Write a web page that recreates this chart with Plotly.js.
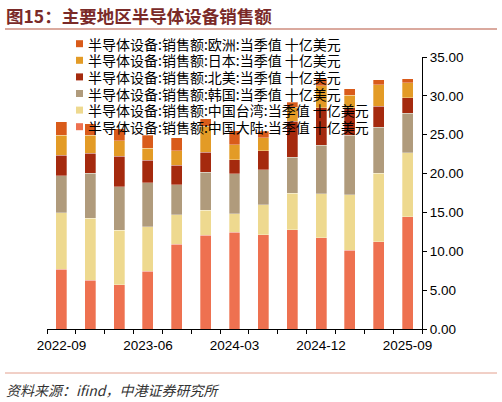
<!DOCTYPE html>
<html>
<head>
<meta charset="utf-8">
<script src="https://cdn.plot.ly/plotly-3.0.1.min.js"></script>
<style>
  body { margin: 0; background: #fff; }
  #myDiv { width: 502px; height: 402px; }
</style>
</head>
<body>
<div id="myDiv"></div>
<script>
  // quarters and values, billion USD
  let quarters = ['2022-09','2022-12','2023-03','2023-06','2023-09','2023-12','2024-03',
                  '2024-06','2024-09','2024-12','2025-03','2025-06','2025-09'];
  let tickText = ['2022-09','','','2023-06','','','2024-03','','','2024-12','','','2025-09'];

  let chinaMainland = [7.67, 6.26, 5.70, 7.41, 10.89, 12.05, 12.43, 12.10, 12.78, 11.75, 10.11, 11.23, 14.45];
  let chinaTaiwan   = [7.30, 7.98, 6.99, 5.72, 3.82, 3.21, 2.37, 3.90, 4.72, 5.66, 7.17, 8.79, 8.24];
  let korea         = [4.76, 5.79, 5.62, 5.66, 3.86, 4.89, 5.18, 4.50, 4.58, 6.22, 7.63, 5.97, 5.05];
  let northAmerica  = [2.61, 2.57, 3.90, 2.91, 2.49, 2.58, 1.80, 2.45, 4.63, 4.85, 3.53, 2.66, 2.02];
  let japan         = [2.57, 2.31, 2.02, 1.59, 1.85, 3.33, 1.93, 1.63, 1.80, 2.83, 1.65, 2.79, 1.93];
  let europe        = [1.73, 1.47, 1.55, 1.62, 1.67, 1.00, 1.80, 0.85, 0.69, 0.86, 0.80, 0.64, 0.48];

  let names = [
    '半导体设备:销售额:中国大陆:当季值 十亿美元',
    '半导体设备:销售额:中国台湾:当季值 十亿美元',
    '半导体设备:销售额:韩国:当季值 十亿美元',
    '半导体设备:销售额:北美:当季值 十亿美元',
    '半导体设备:销售额:日本:当季值 十亿美元',
    '半导体设备:销售额:欧洲:当季值 十亿美元'
  ];
  let series = [chinaMainland, chinaTaiwan, korea, northAmerica, japan, europe];
  let colors = ['#EE7150', '#EED98F', '#B09B7C', '#A52A0E', '#E39B26', '#D95B1A'];

  // plot area in pixels, used to place the legend / title in paper coords
  let plotL = 47, plotR = 422, plotT = 57.3, plotB = 329.3;
  function px2x(px) { return (px - plotL) / (plotR - plotL); }
  function px2y(py) { return (plotB - py) / (plotB - plotT); }

  var data = [];
  for (let i = 0; i < series.length; i++) {
    data.push({
      x: quarters,
      y: series[i],
      name: names[i],
      type: 'bar',
      marker: {color: colors[i], line: {color: 'rgba(255,255,255,0.5)', width: 0.6}},
      hoverinfo: 'none'
    });
  }

  // legend drawn by hand so the rows sit as tight as in the original
  let shapes = [
    {type: 'line', xref: 'paper', yref: 'paper', x0: px2x(5), x1: px2x(497), y0: px2y(29.3), y1: px2y(29.3),
     line: {color: '#B5553F', width: 1.2}},
    {type: 'line', xref: 'paper', yref: 'paper', x0: px2x(5), x1: px2x(497), y0: px2y(373.3), y1: px2y(373.3),
     line: {color: '#E3A08E', width: 1}}
  ];
  let annotations = [
    {text: '<b>图15：主要地区半导体设备销售额</b>', xref: 'paper', yref: 'paper',
     x: px2x(4), y: px2y(16), xanchor: 'left', yanchor: 'middle', showarrow: false,
     font: {family: 'Noto Sans CJK SC', size: 17.5, color: '#7A2A28'}},
    {text: '<i>资料来源：ifind，中港证券研究所</i>', xref: 'paper', yref: 'paper',
     x: px2x(4), y: px2y(390), xanchor: 'left', yanchor: 'middle', showarrow: false,
     font: {family: 'Noto Sans CJK SC', size: 14, color: '#333'}}
  ];
  for (let i = series.length - 1; i >= 0; i--) {
    let row = series.length - 1 - i;
    let cy = 44 + row * 16.6;
    shapes.push({type: 'rect', xref: 'paper', yref: 'paper',
      x0: px2x(76), x1: px2x(83), y0: px2y(cy - 3.5), y1: px2y(cy + 3.5),
      fillcolor: colors[i], line: {width: 0}});
    annotations.push({text: names[i], xref: 'paper', yref: 'paper',
      x: px2x(86), y: px2y(cy), xanchor: 'left', yanchor: 'middle', showarrow: false,
      height: 16, valign: 'middle',
      font: {family: 'Noto Sans CJK SC', size: 14, color: '#000'}});
  }

  var layout = {
    width: 502,
    height: 402,
    margin: {l: plotL, r: 502 - plotR, t: plotT, b: 402 - plotB},
    paper_bgcolor: '#ffffff',
    plot_bgcolor: '#ffffff',
    barmode: 'stack',
    bargap: 0.62,
    font: {family: 'Liberation Sans, Arial, sans-serif', color: '#000', size: 13},
    showlegend: false,
    xaxis: {
      type: 'category',
      tickmode: 'array',
      tickvals: quarters,
      ticktext: tickText,
      tickangle: 0,
      tickson: 'boundaries',
      ticks: 'outside',
      ticklen: 4,
      tickcolor: '#000',
      ticklabelstandoff: 4,
      showline: true,
      linecolor: '#000',
      linewidth: 1,
      showgrid: false,
      zeroline: false,
      tickfont: {size: 13.5}
    },
    yaxis: {
      side: 'right',
      range: [0, 35],
      dtick: 5,
      tickformat: '.2f',
      ticks: 'outside',
      ticklen: 4,
      tickcolor: '#000',
      showline: true,
      linecolor: '#000',
      linewidth: 1,
      showgrid: false,
      zeroline: false,
      tickfont: {size: 13.5}
    },
    shapes: shapes,
    annotations: annotations
  };

  Plotly.newPlot('myDiv', data, layout, {displayModeBar: false, staticPlot: true});
</script>
</body>
</html>
